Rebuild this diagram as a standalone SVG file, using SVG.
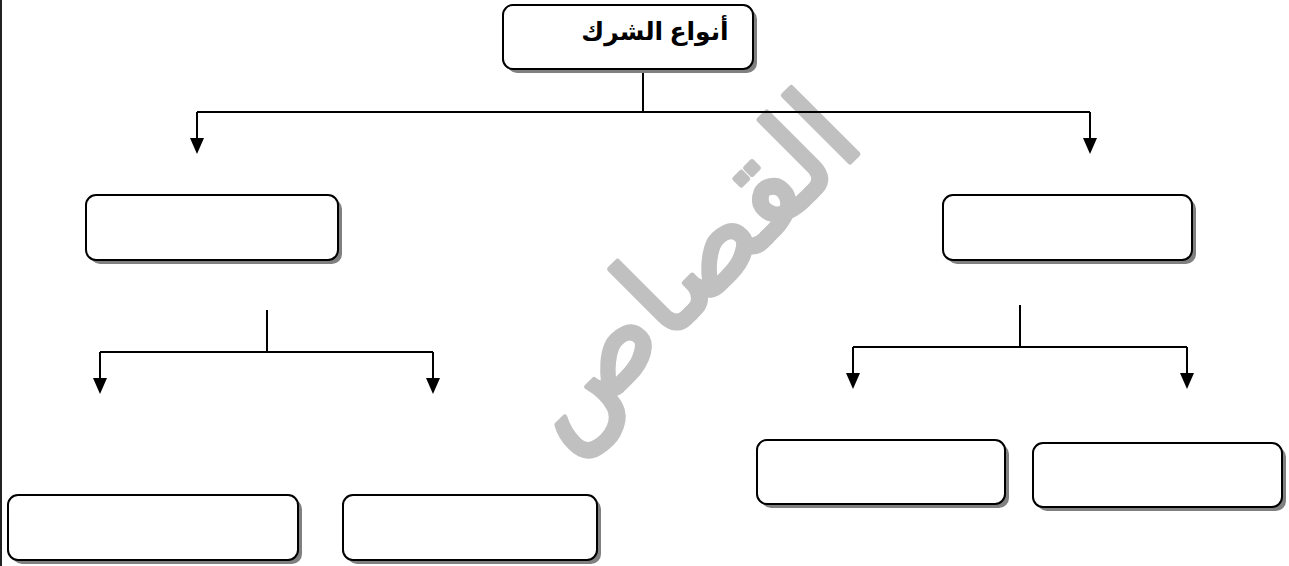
<svg xmlns="http://www.w3.org/2000/svg" width="1289" height="566" viewBox="0 0 1289 566">
<defs>
<style>
.box{fill:#fff;stroke:#000;stroke-width:2}
.sh{fill:#808080}
.ln{fill:none;stroke:#000;stroke-width:2}
.ah{fill:#000}
.lbl{font-family:"Liberation Serif","DejaVu Sans",serif;font-weight:bold;font-size:25px;fill:#000}
.wm{font-family:"DejaVu Sans",sans-serif;font-size:124px;fill:#c0c0c0;stroke:#c0c0c0;stroke-width:5;stroke-linejoin:round}
</style>
</defs>
<rect width="1289" height="566" fill="#fff"/>
<line x1="1" y1="0" x2="1" y2="566" stroke="#222" stroke-width="2"/>
<g id="watermark">
<text class="wm" x="0" y="0" text-anchor="middle" transform="translate(714,298) rotate(-45)">القصاص</text>
</g>
<g id="connectors">
<path class="ln" d="M643,69 V112 M197,112 H1090 M197,112 V140 M1090,112 V140"/>
<path class="ln" d="M267,310 V352 M100,352 H433 M100,352 V380 M433,352 V380"/>
<path class="ln" d="M1020,305 V347 M853,347 H1187 M853,347 V375 M1187,347 V375"/>
<path class="ah" d="M190,138 h14 l-7,16 z M1083,138 h14 l-7,16 z M93,378 h14 l-7,16 z M426,378 h14 l-7,16 z M846,373 h14 l-7,16 z M1180,373 h14 l-7,16 z"/>
</g>
<g id="root">
<rect class="sh" x="507" y="9" width="250" height="64" rx="10"/>
<rect class="box" x="503" y="5" width="250" height="64" rx="10"/>
<text class="lbl" x="655" y="40" text-anchor="middle">أنواع الشرك</text>
</g>
<g id="left">
<rect class="sh" x="90" y="199" width="252" height="65" rx="10"/>
<rect class="box" x="86" y="195" width="252" height="65" rx="10"/>
</g>
<g id="right">
<rect class="sh" x="947" y="199" width="249" height="65" rx="10"/>
<rect class="box" x="943" y="195" width="249" height="65" rx="10"/>
</g>
<g id="left-a">
<rect class="sh" x="12" y="499" width="290" height="65" rx="10"/>
<rect class="box" x="8" y="495" width="290" height="65" rx="10"/>
</g>
<g id="left-b">
<rect class="sh" x="347" y="499" width="254" height="65" rx="10"/>
<rect class="box" x="343" y="495" width="254" height="65" rx="10"/>
</g>
<g id="right-a">
<rect class="sh" x="761" y="444" width="248" height="64" rx="10"/>
<rect class="box" x="757" y="440" width="248" height="64" rx="10"/>
</g>
<g id="right-b">
<rect class="sh" x="1037" y="447" width="249" height="64" rx="10"/>
<rect class="box" x="1033" y="443" width="249" height="64" rx="10"/>
</g>
</svg>
